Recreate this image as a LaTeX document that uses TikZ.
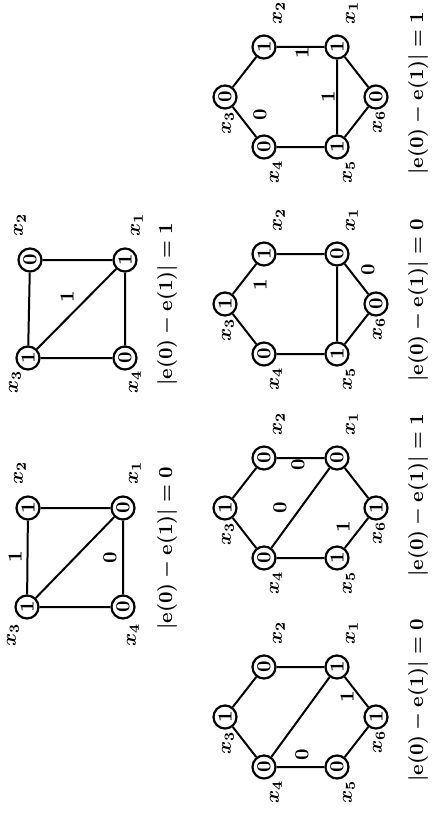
\documentclass[tikz,border=0pt]{standalone}
\usepackage{amsmath}
\begin{document}
\begin{tikzpicture}[x=0.5pt,y=-0.5pt,
  vtx/.style={circle,draw,line width=1.1pt,minimum size=11.5pt,inner sep=0pt,font=\bfseries,rotate=90},
  edge/.style={line width=1pt},
  elab/.style={font=\bfseries,rotate=90,inner sep=0pt},
  xlab/.style={font=\boldmath,rotate=90,inner sep=0pt},
  captxt/.style={font=\boldmath,rotate=90,inner sep=0pt}]
\useasboundingbox (0,0) rectangle (432,813);

% ---------- Graph A ----------
\node[vtx] (A2) at (30,260) {0};
\node[vtx] (A1) at (125,260) {1};
\node[vtx] (A4) at (125,358) {0};
\node[vtx] (A3) at (28,358) {1};
\draw[edge] (A3) -- (A2) (A2) -- (A1) (A1) -- (A4) (A4) -- (A3) (A3) -- (A1);
\node[elab] (Ae1) at (67,297) {1};
\node[xlab] (Al2) at (20,225) {$x_2$};
\node[xlab] (Al1) at (137,225) {$x_1$};
\node[xlab] (Al3) at (15,382) {$x_3$};
\node[xlab] (Al4) at (135,382) {$x_4$};
\node[captxt] (Acap) at (167,304) {$|\mathbf{e}(0)-\mathbf{e}(1)|=1$};

% ---------- Graph B ----------
\node[vtx] (B2) at (28,508) {1};
\node[vtx] (B1) at (123,508) {0};
\node[vtx] (B4) at (123,607) {0};
\node[vtx] (B3) at (27,607) {1};
\draw[edge] (B3) -- (B2) (B2) -- (B1) (B1) -- (B4) (B4) -- (B3) (B3) -- (B1);
\node[elab] (Be1) at (15,557) {1};
\node[elab] (Be2) at (110,558) {0};
\node[xlab] (Bl2) at (20,473) {$x_2$};
\node[xlab] (Bl1) at (135,473) {$x_1$};
\node[xlab] (Bl3) at (13,635) {$x_3$};
\node[xlab] (Bl4) at (133,635) {$x_4$};
\node[captxt] (Bcap) at (167,548) {$|\mathbf{e}(0)-\mathbf{e}(1)|=0$};

% ---------- Graph C ----------
\begin{scope}[shift={(0,97)}]
\node[vtx] (C1) at (337,-50) {1};
\node[vtx] (C2) at (264,-50) {1};
\node[vtx] (C3) at (225,0) {0};
\node[vtx] (C4) at (264,50) {0};
\node[vtx] (C5) at (337,50) {1};
\node[vtx] (C6) at (376,0) {0};
\draw[edge] (C1) -- (C2) (C2) -- (C3) (C3) -- (C4) (C4) -- (C5) (C5) -- (C6) (C6) -- (C1) (C1) -- (C5);
\node[elab] (Ce1) at (302,-44) {1};
\node[elab] (Ce2) at (328,0) {1};
\node[elab] (Ce3) at (260,18) {0};
\node[xlab] (Cl1) at (352,-84) {$x_1$};
\node[xlab] (Cl2) at (279,-84) {$x_2$};
\node[xlab] (Cl3) at (228,26) {$x_3$};
\node[xlab] (Cl4) at (276,75) {$x_4$};
\node[xlab] (Cl5) at (349,75) {$x_5$};
\node[xlab] (Cl6) at (379,25) {$x_6$};
\end{scope}
\node[captxt] (Ccap) at (418,93) {$|\mathbf{e}(0)-\mathbf{e}(1)|=1$};

% ---------- Graph D ----------
\begin{scope}[shift={(0,304)}]
\node[vtx] (D1) at (337,-50) {0};
\node[vtx] (D2) at (264,-50) {1};
\node[vtx] (D3) at (225,0) {1};
\node[vtx] (D4) at (264,50) {0};
\node[vtx] (D5) at (337,50) {1};
\node[vtx] (D6) at (376,0) {0};
\draw[edge] (D1) -- (D2) (D2) -- (D3) (D3) -- (D4) (D4) -- (D5) (D5) -- (D6) (D6) -- (D1) (D1) -- (D5);
\node[elab] (De1) at (260,-19) {1};
\node[elab] (De2) at (368,-34) {0};
\node[xlab] (Dl1) at (352,-84) {$x_1$};
\node[xlab] (Dl2) at (279,-84) {$x_2$};
\node[xlab] (Dl3) at (228,26) {$x_3$};
\node[xlab] (Dl4) at (276,75) {$x_4$};
\node[xlab] (Dl5) at (349,75) {$x_5$};
\node[xlab] (Dl6) at (379,25) {$x_6$};
\end{scope}
\node[captxt] (Dcap) at (418,300) {$|\mathbf{e}(0)-\mathbf{e}(1)|=0$};

% ---------- Graph E ----------
\begin{scope}[shift={(0,508)}]
\node[vtx] (E1) at (337,-50) {0};
\node[vtx] (E2) at (264,-50) {0};
\node[vtx] (E3) at (225,0) {1};
\node[vtx] (E4) at (264,50) {0};
\node[vtx] (E5) at (337,50) {1};
\node[vtx] (E6) at (376,0) {1};
\draw[edge] (E1) -- (E2) (E2) -- (E3) (E3) -- (E4) (E4) -- (E5) (E5) -- (E6) (E6) -- (E1) (E4) -- (E1);
\node[elab] (Ee1) at (298,-43) {0};
\node[elab] (Ee2) at (280,0) {0};
\node[elab] (Ee3) at (343,19) {1};
\node[xlab] (El1) at (352,-84) {$x_1$};
\node[xlab] (El2) at (279,-84) {$x_2$};
\node[xlab] (El3) at (228,26) {$x_3$};
\node[xlab] (El4) at (276,75) {$x_4$};
\node[xlab] (El5) at (349,75) {$x_5$};
\node[xlab] (El6) at (379,25) {$x_6$};
\end{scope}
\node[captxt] (Ecap) at (418,495) {$|\mathbf{e}(0)-\mathbf{e}(1)|=1$};

% ---------- Graph F ----------
\begin{scope}[shift={(0,717)}]
\node[vtx] (F1) at (337,-50) {1};
\node[vtx] (F2) at (264,-50) {0};
\node[vtx] (F3) at (225,0) {1};
\node[vtx] (F4) at (264,50) {0};
\node[vtx] (F5) at (337,50) {0};
\node[vtx] (F6) at (376,0) {1};
\draw[edge] (F1) -- (F2) (F2) -- (F3) (F3) -- (F4) (F4) -- (F5) (F5) -- (F6) (F6) -- (F1) (F4) -- (F1);
\node[elab] (Fe1) at (347,-20) {1};
\node[elab] (Fe2) at (302,38) {0};
\node[xlab] (Fl1) at (352,-84) {$x_1$};
\node[xlab] (Fl2) at (279,-84) {$x_2$};
\node[xlab] (Fl3) at (228,26) {$x_3$};
\node[xlab] (Fl4) at (276,75) {$x_4$};
\node[xlab] (Fl5) at (349,75) {$x_5$};
\node[xlab] (Fl6) at (379,25) {$x_6$};
\end{scope}
\node[captxt] (Fcap) at (418,700) {$|\mathbf{e}(0)-\mathbf{e}(1)|=0$};
\end{tikzpicture}
\end{document}
